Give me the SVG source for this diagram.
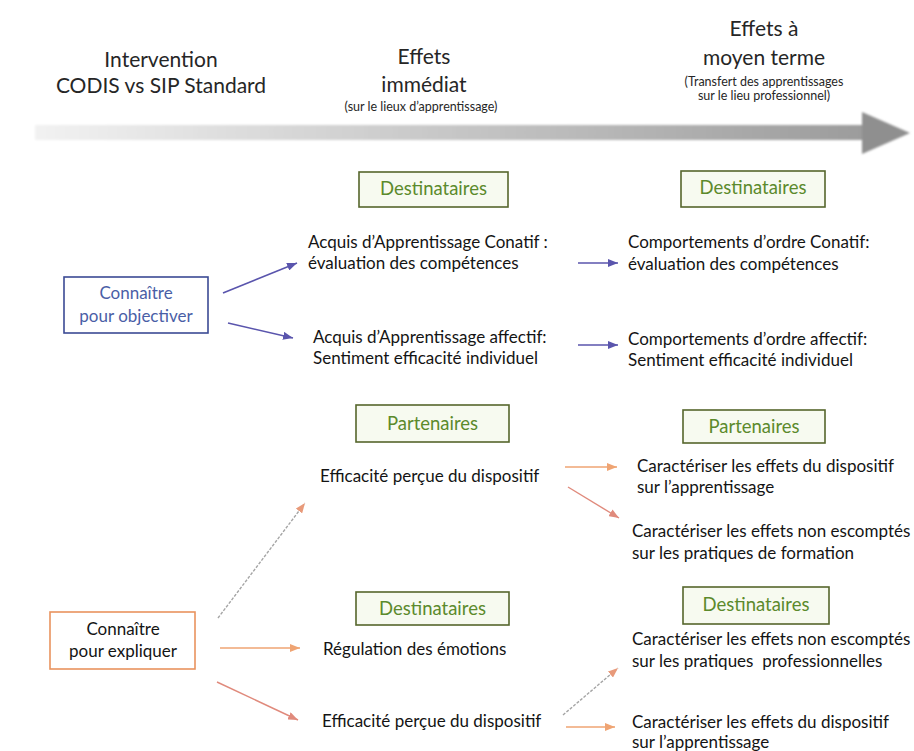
<svg xmlns="http://www.w3.org/2000/svg" width="914" height="751" viewBox="0 0 914 751">
<style>
text{font-family:Lato,"Open Sans","Liberation Sans",sans-serif;}
.hd{font-size:21px;fill:#262626;text-anchor:middle;}
.sm{font-size:12.5px;fill:#262626;text-anchor:middle;}
.lbl{font-size:17px;fill:#141414;}
.gbox{fill:#f7faf0;stroke:#56662c;stroke-width:1.6;}
.gtxt{font-size:18.5px;fill:#5c8a2c;text-anchor:middle;}
.blue{stroke:#5a55ad;stroke-width:1.6;fill:none;}
.orange{stroke:#efa473;stroke-width:1.5;fill:none;}
.salmon{stroke:#e08a7c;stroke-width:1.4;fill:none;}
.gray{stroke:#a5a5a5;stroke-width:1.4;fill:none;stroke-dasharray:3 1.5;}
</style>
<defs>
<linearGradient id="band" x1="0" x2="1" y1="0" y2="0">
<stop offset="0" stop-color="#f2f2f2"/>
<stop offset="0.4" stop-color="#cfcfcf"/>
<stop offset="1" stop-color="#9c9c9c"/>
</linearGradient>
<filter id="soft" x="-5%" y="-50%" width="110%" height="200%"><feGaussianBlur stdDeviation="1.2"/></filter>
<marker id="mb" markerUnits="userSpaceOnUse" markerWidth="10" markerHeight="8" refX="10" refY="4" orient="auto"><path d="M0,0 L10,4 L0,8 z" fill="#5a55ad"/></marker>
<marker id="mo" markerUnits="userSpaceOnUse" markerWidth="10" markerHeight="8" refX="10" refY="4" orient="auto"><path d="M0,0 L10,4 L0,8 z" fill="#efa473"/></marker>
<marker id="ms" markerUnits="userSpaceOnUse" markerWidth="10" markerHeight="8" refX="10" refY="4" orient="auto"><path d="M0,0 L10,4 L0,8 z" fill="#e08a7c"/></marker>
<marker id="mg" markerUnits="userSpaceOnUse" markerWidth="10" markerHeight="8" refX="10" refY="4" orient="auto"><path d="M0,0 L10,4 L0,8 z" fill="#e89a7a"/></marker>
</defs>
<rect width="914" height="751" fill="#ffffff"/>

<g id="headers">
<text class="hd" x="161" y="67">Intervention</text>
<text class="hd" x="161" y="93">CODIS vs SIP Standard</text>
<text class="hd" x="424" y="64">Effets</text>
<text class="hd" x="424" y="92">immédiat</text>
<text class="sm" x="421" y="111">(sur le lieux d’apprentissage)</text>
<text class="hd" x="764" y="36">Effets à</text>
<text class="hd" x="764" y="65">moyen terme</text>
<text class="sm" x="764" y="86">(Transfert des apprentissages</text>
<text class="sm" x="764" y="100">sur le lieu professionnel)</text>
</g>

<g id="timeline">
<rect x="35" y="125" width="830" height="15" fill="url(#band)" filter="url(#soft)"/>
<polygon points="862,112 910,133 862,154" fill="#8f8f8f" filter="url(#soft)"/>
</g>

<g id="n-objectiver">
<rect x="64" y="277" width="144" height="56" fill="#ffffff" stroke="#3b4a94" stroke-width="1.6"/>
<text class="lbl" x="136" y="299" text-anchor="middle" style="fill:#4a5ea6">Connaître</text>
<text class="lbl" x="136" y="322" text-anchor="middle" style="fill:#4a5ea6">pour objectiver</text>
</g>

<g id="n-expliquer">
<rect x="50" y="612" width="145" height="57" fill="#ffffff" stroke="#e9935e" stroke-width="1.6"/>
<text class="lbl" x="123" y="635" text-anchor="middle">Connaître</text>
<text class="lbl" x="123" y="657" text-anchor="middle">pour expliquer</text>
</g>

<g id="g-dest1"><rect class="gbox" x="359" y="172" width="149" height="35"/><text class="gtxt" x="433.5" y="195">Destinataires</text></g>
<g id="g-dest2"><rect class="gbox" x="681" y="171" width="144" height="36"/><text class="gtxt" x="753" y="194">Destinataires</text></g>
<g id="g-part1"><rect class="gbox" x="356" y="405" width="153" height="37"/><text class="gtxt" x="432.5" y="430">Partenaires</text></g>
<g id="g-part2"><rect class="gbox" x="683" y="410" width="142" height="33"/><text class="gtxt" x="754" y="433">Partenaires</text></g>
<g id="g-dest3"><rect class="gbox" x="356" y="592" width="153" height="33"/><text class="gtxt" x="432.5" y="615">Destinataires</text></g>
<g id="g-dest4"><rect class="gbox" x="683" y="587" width="146" height="37"/><text class="gtxt" x="756" y="611">Destinataires</text></g>

<g id="n-conatif"><text class="lbl" x="308" y="248">Acquis d’Apprentissage Conatif :</text><text class="lbl" x="308" y="269">évaluation des compétences</text></g>
<g id="n-affectif"><text class="lbl" x="313" y="343">Acquis d’Apprentissage affectif:</text><text class="lbl" x="313" y="364">Sentiment efficacité individuel</text></g>
<g id="n-comp-conatif"><text class="lbl" x="628" y="248">Comportements d’ordre Conatif:</text><text class="lbl" x="628" y="270">évaluation des compétences</text></g>
<g id="n-comp-affectif"><text class="lbl" x="628" y="345">Comportements d’ordre affectif:</text><text class="lbl" x="628" y="366">Sentiment efficacité individuel</text></g>
<g id="n-eff1"><text class="lbl" x="320" y="482">Efficacité perçue du dispositif</text></g>
<g id="n-car1"><text class="lbl" x="637" y="472">Caractériser les effets du dispositif</text><text class="lbl" x="637" y="493">sur l’apprentissage</text></g>
<g id="n-car2"><text class="lbl" x="632" y="537">Caractériser les effets non escomptés</text><text class="lbl" x="632" y="559">sur les pratiques de formation</text></g>
<g id="n-regul"><text class="lbl" x="323" y="655">Régulation des émotions</text></g>
<g id="n-eff2"><text class="lbl" x="322" y="727">Efficacité perçue du dispositif</text></g>
<g id="n-car3"><text class="lbl" x="632" y="645">Caractériser les effets non escomptés</text><text class="lbl" x="632" y="667" xml:space="preserve" style="white-space:pre">sur les pratiques  professionnelles</text></g>
<g id="n-car4"><text class="lbl" x="632" y="728">Caractériser les effets du dispositif</text><text class="lbl" x="632" y="748">sur l’apprentissage</text></g>

<g id="connectors">
<line class="blue" x1="223" y1="293" x2="297" y2="263" marker-end="url(#mb)"/>
<line class="blue" x1="228" y1="323" x2="293" y2="338" marker-end="url(#mb)"/>
<line class="blue" x1="578" y1="263" x2="618" y2="263" marker-end="url(#mb)"/>
<line class="blue" x1="578" y1="345" x2="618" y2="345" marker-end="url(#mb)"/>
<line class="gray" x1="218" y1="618" x2="305" y2="503" marker-end="url(#mg)"/>
<line class="orange" x1="220" y1="648" x2="300" y2="648" marker-end="url(#mo)"/>
<line class="salmon" x1="217" y1="682" x2="298" y2="720" marker-end="url(#ms)"/>
<line class="orange" x1="565" y1="467" x2="617" y2="467" marker-end="url(#mo)"/>
<line class="salmon" x1="568" y1="487" x2="619" y2="518" marker-end="url(#ms)"/>
<line class="gray" x1="563" y1="715" x2="618" y2="668" marker-end="url(#mg)"/>
<line class="orange" x1="566" y1="727" x2="615" y2="727" marker-end="url(#mo)"/>
</g>
</svg>
